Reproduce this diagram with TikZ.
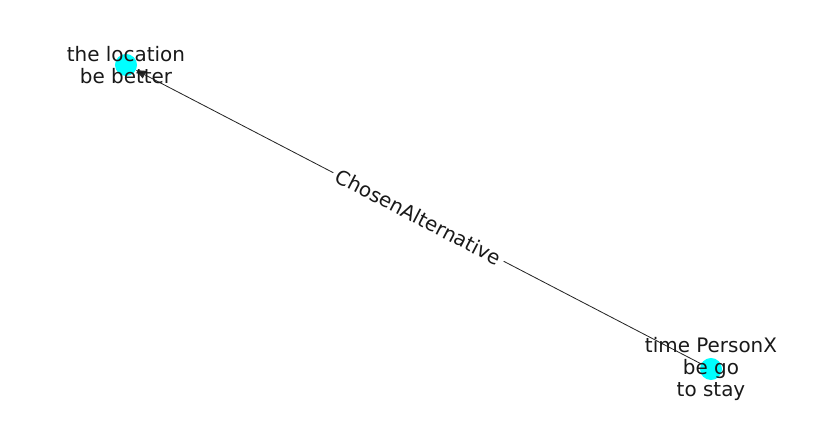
\documentclass[tikz,border=0pt]{standalone}
\usepackage{fontspec}
\setmainfont{DejaVu Sans}
\usetikzlibrary{arrows.meta, positioning}
\definecolor{nodecyan}{RGB}{0,255,255}
\definecolor{inkgray}{RGB}{25,25,25}
\tikzset{
  vertex/.style={circle, fill=nodecyan, inner sep=0pt, minimum size=0.22in},
  txt/.style={align=center, font=\fontsize{14.4}{15.8}\selectfont, text=inkgray},
  lbl/.style={fill=white, inner xsep=3pt, inner ysep=1pt, font=\fontsize{14.4}{16}\selectfont, text=inkgray},
  arrow/.style={draw=black!85, line width=0.6pt, -{Stealth[length=7pt, width=6pt, inset=0pt]}}
}
\begin{document}
\begin{tikzpicture}[x=0.01in, y=-0.01in]
  \useasboundingbox (0,0) rectangle (837,434);
  \node (loc) [vertex] at (126,65) {};
  \node (stay) [vertex] at (711,369) {};

  \draw [arrow] (stay) -- node[lbl, sloped] {ChosenAlternative} (loc);

  \node (loctxt) [txt] at (loc) {the location\\be better};
  \node (staytxt) [txt] at (stay) {time PersonX\\be go\\to stay};
\end{tikzpicture}
\end{document}
